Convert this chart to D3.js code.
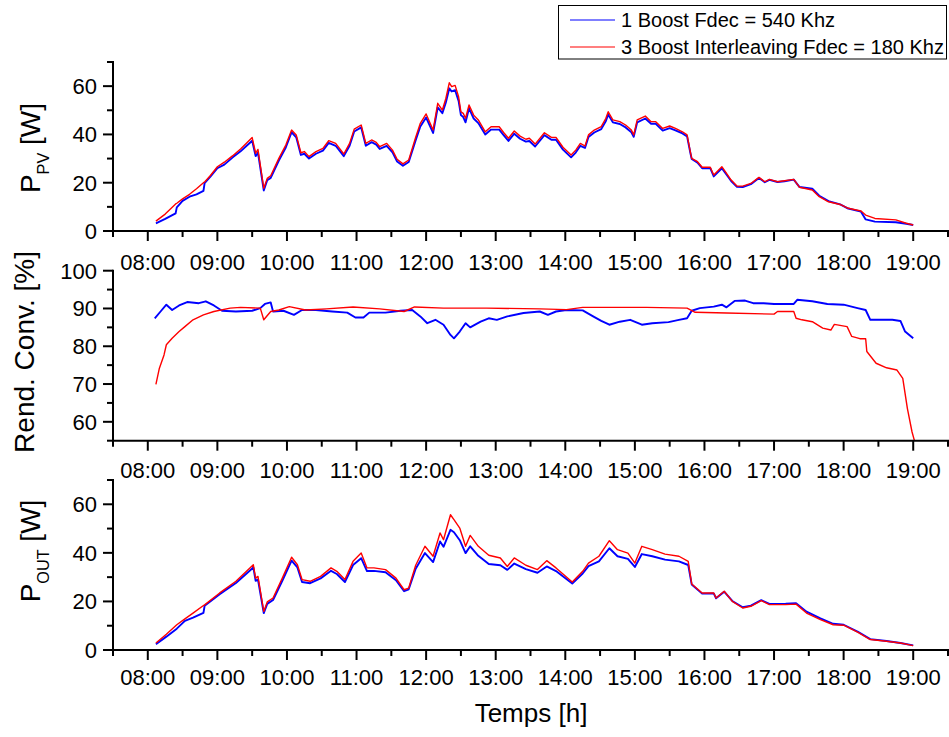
<!DOCTYPE html>
<html><head><meta charset="utf-8">
<script src="https://cdn.jsdelivr.net/npm/d3@7"></script>
<style>
body{margin:0;background:#fff;}
svg text{font-family:"Liberation Sans",Arial,sans-serif;fill:#000;}
</style></head>
<body><svg id="c" width="949" height="737"></svg>
<script>
// ---------- DATA ----------
const tickLabels = ["08:00","09:00","10:00","11:00","12:00","13:00","14:00","15:00","16:00","17:00","18:00","19:00"];
const seriesNames = ["1 Boost Fdec = 540 Khz","3 Boost Interleaving Fdec = 180 Khz"];

const ppvTimes = ["08:07","08:15","08:24","08:25","08:30","08:36","08:42","08:48","08:49","08:54","09:00","09:06","09:13","09:20","09:25","09:30","09:33","09:35","09:40","09:43","09:46","09:53","09:59","10:04","10:08","10:12","10:15","10:19","10:25","10:31","10:36","10:42","10:49","10:54","10:58","11:04","11:08","11:13","11:17","11:20","11:26","11:31","11:35","11:40","11:45","11:51","11:55","12:00","12:06","12:10","12:14","12:17","12:20","12:22","12:25","12:28","12:30","12:32","12:34","12:37","12:41","12:45","12:51","12:56","13:03","13:07","13:11","13:16","13:21","13:26","13:29","13:34","13:42","13:48","13:52","13:58","14:05","14:09","14:13","14:17","14:20","14:25","14:31","14:35","14:37","14:41","14:47","14:52","14:57","14:59","15:02","15:09","15:14","15:18","15:24","15:30","15:35","15:41","15:45","15:48","15:49","15:54","15:58","16:05","16:08","16:15","16:18","16:23","16:28","16:33","16:40","16:47","16:52","16:56","17:03","17:09","17:17","17:22","17:33","17:39","17:47","17:57","18:04","18:15","18:19","18:27","18:45","18:54","19:00"];
const ppvRed = [4.1,7.0,11.2,11.5,13.3,15.2,17.5,20.0,20.3,23.0,26.6,28.5,31.1,34.0,36.3,38.7,32.2,33.8,17.7,21.8,22.9,30.1,35.6,41.8,39.8,32.4,32.9,30.8,32.9,34.2,37.4,36.3,31.9,36.3,42.2,43.9,36.3,37.7,36.7,34.9,36.3,33.5,29.7,27.8,29.4,38.8,44.6,48.5,41.8,52.9,50.1,54.9,61.4,59.8,60.3,55.6,49.4,48.7,46.7,52.2,48.0,46.0,41.1,43.2,43.2,40.7,38.4,41.4,39.3,38.0,38.4,36.0,40.7,38.8,38.8,34.7,31.5,33.5,36.3,35.2,39.8,41.8,43.2,46.7,49.4,46.0,45.3,43.9,41.8,39.8,46.0,47.6,45.3,45.3,42.5,43.5,42.5,41.1,39.8,32.4,30.1,28.7,26.4,26.4,23.2,26.6,24.6,21.1,18.6,18.6,19.7,22.2,20.4,21.4,20.4,20.8,21.4,18.1,17.0,14.2,12.1,11.0,9.4,8.3,6.6,5.2,4.6,3.2,2.5];
const ppvBlue = [3.2,5.0,7.3,9.8,12.5,14.2,15.2,16.6,19.8,22.5,26.0,27.5,30.4,33.0,35.2,37.4,31.0,32.5,16.8,21.0,22.0,29.2,34.6,40.9,38.8,31.5,32.0,30.0,32.0,33.3,36.5,35.3,31.0,35.3,41.2,42.9,35.3,36.8,35.8,34.0,35.3,32.6,28.8,27.0,28.6,37.6,43.3,47.0,40.6,51.2,48.8,53.2,59.1,57.8,58.3,53.9,48.0,47.2,45.0,50.8,46.6,44.7,40.0,42.0,42.0,39.6,37.3,40.3,38.2,37.0,37.3,35.0,39.7,37.8,37.8,33.7,30.5,32.5,35.3,34.4,38.9,40.8,42.2,45.6,48.2,45.0,44.3,42.9,40.9,39.0,45.0,46.6,44.4,44.4,41.6,42.6,41.7,40.4,39.2,32.0,29.8,28.3,26.0,26.0,22.6,26.0,24.0,20.7,18.3,18.2,19.4,22.0,20.2,21.2,20.3,20.6,21.3,18.2,17.5,14.6,12.4,11.0,9.3,8.0,4.8,3.9,3.6,3.0,2.5];

const effBlueTimes = ["08:06","08:11","08:16","08:21","08:27","08:34","08:44","08:50","08:57","09:04","09:16","09:30","09:37","09:41","09:46","09:48","09:57","10:06","10:13","10:25","10:39","10:52","10:59","11:06","11:11","11:25","11:38","11:48","11:55","12:01","12:08","12:15","12:21","12:24","12:29","12:34","12:38","12:47","12:54","13:01","13:10","13:24","13:38","13:45","13:52","14:01","14:15","14:24","14:31","14:38","14:47","14:56","15:06","15:15","15:29","15:38","15:45","15:49","15:56","16:08","16:15","16:19","16:26","16:35","16:42","16:51","17:00","17:17","17:20","17:33","17:46","18:00","18:12","18:19","18:23","18:33","18:42","18:49","18:53","19:00"];
const effBlue = [87.4,89.2,91.0,89.6,90.8,91.7,91.4,91.9,90.8,89.4,89.2,89.4,90.1,91.2,91.6,89.2,89.4,88.3,89.6,89.6,89.2,88.9,87.6,87.6,88.9,88.9,89.4,89.6,87.9,86.1,87.0,85.7,83.0,82.1,83.9,86.1,85.0,86.5,87.4,87.0,87.9,88.8,89.2,88.3,89.2,89.6,89.5,87.9,86.7,85.7,86.5,87.0,85.7,86.1,86.4,87.0,87.4,89.4,90.1,90.5,91.0,90.3,92.0,92.1,91.4,91.4,91.2,91.2,92.3,91.9,91.2,91.0,90.1,89.6,87.0,87.0,87.0,86.7,83.9,82.1];
const effRedTimes = ["08:07","08:10","08:14","08:16","08:21","08:27","08:32","08:39","08:48","08:57","09:11","09:20","09:37","09:40","09:46","09:53","10:02","10:16","10:34","10:57","11:20","11:41","11:50","12:15","12:52","13:38","14:01","14:15","15:10","15:45","15:52","16:19","17:00","17:03","17:17","17:19","17:24","17:33","17:42","17:49","17:52","18:03","18:07","18:14","18:19","18:20","18:28","18:37","18:46","18:51","18:55","18:59","19:01"];
const effRed = [69.9,74.2,77.7,80.4,82.1,83.9,85.2,87.0,88.3,89.2,90.1,90.3,90.1,87.0,89.2,89.6,90.5,89.6,89.9,90.4,89.9,89.2,90.4,90.1,90.1,89.9,89.7,90.3,90.3,90.1,89.0,88.8,88.5,89.2,89.2,87.4,87.0,86.5,84.8,84.3,85.8,85.2,82.6,82.0,82.0,78.6,75.5,74.3,73.7,71.5,63.5,57.3,55.1];

const poutTimes = ["08:07","08:16","08:25","08:32","08:39","08:48","08:49","09:02","09:16","09:31","09:33","09:35","09:40","09:43","09:48","09:56","10:04","10:09","10:13","10:20","10:29","10:38","10:43","10:50","10:57","11:04","11:09","11:15","11:25","11:34","11:41","11:45","11:51","11:59","12:06","12:12","12:15","12:21","12:24","12:29","12:34","12:38","12:45","12:54","13:04","13:10","13:16","13:26","13:36","13:44","13:52","14:06","14:15","14:20","14:29","14:38","14:45","14:54","15:00","15:06","15:15","15:26","15:38","15:46","15:49","15:58","16:08","16:10","16:17","16:24","16:33","16:40","16:49","16:56","17:10","17:19","17:28","17:40","17:51","18:00","18:12","18:23","18:37","18:49","19:00"];
const poutRed = [2.9,6.5,10.4,12.8,15.2,18.3,18.6,23.5,28.3,35.1,29.6,30.3,15.9,19.8,21.4,29.6,38.2,35.1,29.0,28.3,30.3,33.8,32.4,29.0,36.5,39.9,33.8,33.8,33.1,29.6,24.8,25.5,34.9,42.7,38.6,48.2,45.4,55.7,53.7,50.2,42.7,47.2,42.7,39.0,37.9,34.4,37.9,34.9,33.1,36.8,33.8,28.0,32.4,35.8,38.6,45.0,41.3,39.9,35.8,42.7,41.3,39.5,38.6,36.5,27.2,23.5,23.5,21.4,24.2,20.0,17.3,18.0,20.3,18.7,18.7,18.9,15.2,12.5,10.4,10.2,7.4,4.3,3.6,2.9,1.8];
const poutBlue = [2.4,5.5,8.8,12.0,13.3,15.3,18.2,23.0,27.6,34.0,28.5,29.0,15.2,19.0,20.6,28.5,36.8,34.0,28.0,27.5,29.5,32.6,31.3,28.0,35.0,37.8,32.5,32.6,32.0,28.7,24.2,25.0,33.5,39.9,36.2,44.7,42.5,49.5,48.5,45.2,39.9,42.7,38.8,35.4,34.9,33.0,35.6,33.3,31.8,34.4,32.5,27.4,31.5,34.5,36.5,41.9,38.6,37.5,34.2,39.5,38.6,37.2,36.5,35.0,27.0,23.2,23.3,21.3,24.0,20.2,17.6,18.3,20.5,19.0,19.1,19.3,15.8,13.0,10.8,10.4,7.6,4.5,3.7,2.9,1.9];

// ---------- LAYOUT ----------
const svg = d3.select("#c");
const toMin = s => { const [h,m] = s.split(":").map(Number); return h*60+m; };
const x = d3.scaleLinear().domain([toMin("07:30"), toMin("19:30")]).range([113, 948]);
const colors = ["#0000ff","#ff0000"];

const panels = [
  {top:62, bottom:231, domain:[0,70], major:[0,20,40,60], minor:[10,30,50,70], lblOff:39,
   series:[[ppvTimes,ppvBlue],[ppvTimes,ppvRed]]},
  {top:270.7, bottom:440.7, domain:[55,100], major:[60,70,80,90,100], minor:[55,65,75,85,95], lblOff:37,
   series:[[effBlueTimes,effBlue],[effRedTimes,effRed]]},
  {top:480, bottom:650, domain:[0,70], major:[0,20,40,60], minor:[10,30,50,70], lblOff:35,
   series:[[poutTimes,poutBlue],[poutTimes,poutRed]]}
];

const majorX = tickLabels.map(toMin);
const minorX = d3.range(toMin("07:30"), toMin("19:30")+1, 60);

panels.forEach(p => {
  const y = d3.scaleLinear().domain(p.domain).range([p.bottom, p.top]);
  const g = svg.append("g");
  // lines
  p.series.forEach((s, i) => {
    const pts = s[0].map((t, k) => [toMin(t), s[1][k]]);
    g.append("path").datum(pts)
      .attr("fill","none").attr("stroke", colors[i])
      .attr("stroke-width", i === 0 ? 1.9 : 1.4)
      .attr("stroke-linejoin","round")
      .attr("d", d3.line().x(d => x(d[0])).y(d => y(d[1])));
  });
  // y axis
  const ya = g.append("g");
  ya.append("line").attr("x1",x.range()[0]).attr("x2",x.range()[0]).attr("y1",p.top-1).attr("y2",p.bottom+1)
    .attr("stroke","#000").attr("stroke-width",2);
  p.major.forEach(v => {
    ya.append("line").attr("x1",x.range()[0]-10).attr("x2",x.range()[0]).attr("y1",y(v)).attr("y2",y(v)).attr("stroke","#000").attr("stroke-width",2);
    ya.append("text").attr("x",97).attr("y",y(v)).attr("dy","0.36em").attr("text-anchor","end").attr("font-size",22).text(v);
  });
  p.minor.forEach(v => {
    ya.append("line").attr("x1",x.range()[0]-6).attr("x2",x.range()[0]).attr("y1",y(v)).attr("y2",y(v)).attr("stroke","#000").attr("stroke-width",2);
  });
  // x axis
  const xa = g.append("g");
  xa.append("line").attr("x1",x.range()[0]-1).attr("x2",949).attr("y1",p.bottom).attr("y2",p.bottom).attr("stroke","#000").attr("stroke-width",2);
  majorX.forEach((v, k) => {
    xa.append("line").attr("x1",x(v)).attr("x2",x(v)).attr("y1",p.bottom).attr("y2",p.bottom+10).attr("stroke","#000").attr("stroke-width",2);
    xa.append("text").attr("x",x(v)).attr("y",p.bottom+p.lblOff).attr("text-anchor","middle").attr("font-size",22).text(tickLabels[k]);
  });
  minorX.forEach(v => {
    xa.append("line").attr("x1",x(v)).attr("x2",x(v)).attr("y1",p.bottom).attr("y2",p.bottom+6).attr("stroke","#000").attr("stroke-width",2);
  });
});

// y titles
function yTitle(cx, cy, main, sub, rest, size) {
  const t = svg.append("text").attr("transform",`translate(${cx},${cy}) rotate(-90)`)
    .attr("text-anchor","middle").attr("font-size",size);
  t.append("tspan").text(main);
  if (sub) {
    t.append("tspan").attr("font-size",size*0.58).attr("dy",9).text(sub);
    t.append("tspan").attr("dy",-9).text(rest);
  } else {
    t.append("tspan").text(rest);
  }
}
yTitle(40, 148, "P", "PV", " [W]", 28);
yTitle(34, 352, "Rend. Conv. [%]", null, "", 28);
yTitle(40, 551, "P", "OUT", " [W]", 28);

svg.append("text").attr("x",531).attr("y",722).attr("text-anchor","middle").attr("font-size",26).text("Temps [h]");

// legend
const lg = svg.append("g");
lg.append("rect").attr("x",558.5).attr("y",5.5).attr("width",388).attr("height",53.5)
  .attr("fill","#fff").attr("stroke","#000").attr("stroke-width",1);
seriesNames.forEach((n, i) => {
  const yy = 20 + i*27;
  lg.append("line").attr("x1",570).attr("x2",615).attr("y1",yy).attr("y2",yy).attr("stroke",colors[i]).attr("stroke-width",1.2);
  lg.append("text").attr("x",621).attr("y",yy).attr("dy","0.36em").attr("font-size",20).text(n);
});
</script></body></html>
